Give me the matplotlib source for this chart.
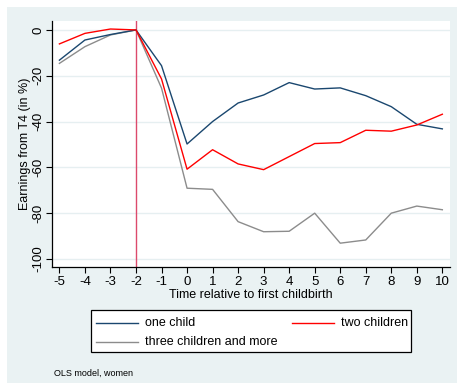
import matplotlib
matplotlib.use("Agg")
import matplotlib.pyplot as plt
from matplotlib.patches import Rectangle
from matplotlib.lines import Line2D

plt.rcParams["font.family"] = ["Liberation Sans", "DejaVu Sans"]
plt.rcParams["axes.unicode_minus"] = False

# Event time relative to first childbirth
years = [-5, -4, -3, -2, -1, 0, 1, 2, 3, 4, 5, 6, 7, 8, 9, 10]

# Earnings relative to T4 (in %) by number of children
one_child = [-13.2, -4.4, -2.0, 0.0, -15.6, -49.8, -40.0, -31.9, -28.4,
             -23.0, -25.8, -25.3, -28.7, -33.5, -41.2, -43.2]
two_children = [-6.1, -1.5, 0.4, 0.0, -21.4, -60.8, -52.3, -58.5, -61.0,
                -55.3, -49.6, -49.2, -43.8, -44.2, -41.5, -36.8]
three_plus = [-14.6, -7.3, -2.2, 0.0, -25.4, -69.1, -69.6, -83.7, -88.1,
              -87.9, -80.0, -93.1, -91.7, -80.0, -76.9, -78.5]

series_labels = ["one child", "two children", "three children and more"]
series_colors = ["#1a476f", "#ff0000", "#8c8c8c"]

y_ticks = [0, -20, -40, -60, -80, -100]
x_ticks = list(range(-5, 11))
ref_year = -2

W, H = 457, 383
fig = plt.figure(figsize=(W / 100, H / 100), dpi=100)
fig.patch.set_facecolor("white")


def fx(px):
    return px / W


def fy(py):
    return 1 - py / H


bg = "#eaf2f3"
fig.patches.append(Rectangle((fx(7), 0), 1 - fx(7), fy(7),
                             transform=fig.transFigure, facecolor=bg,
                             edgecolor="none", zorder=-10))

# plot region in pixels
left, right, top, bottom = 52, 450, 21, 267
ax = fig.add_axes([fx(left), fy(bottom), (right - left) / W, (bottom - top) / H])
ax.set_facecolor("white")

ax.set_xlim(-5.29, 10.3)
ax.set_ylim(-103.5, 3.9)

for yv in y_ticks:
    ax.axhline(yv, color="#e6eff1", lw=1.0, zorder=0)

ax.axvline(ref_year, color="#dc4a6c", lw=1.0, zorder=1)

for vals, col, z in zip([one_child, two_children, three_plus], series_colors, [3, 3, 2]):
    ax.plot(years, vals, color=col, lw=1.0, zorder=z)

ax.set_xticks(x_ticks)
ax.set_yticks(y_ticks)
ax.set_yticklabels([str(v) for v in y_ticks], rotation=90, va="center")
ax.tick_params(axis="both", direction="out", length=4.5, width=0.8,
               labelsize=9.5, color="black", pad=2)
ax.tick_params(axis="y", pad=1)

for side in ["top", "right"]:
    ax.spines[side].set_visible(False)
for side in ["left", "bottom"]:
    ax.spines[side].set_linewidth(0.9)
    ax.spines[side].set_color("black")

ax.set_xlabel("Time relative to first childbirth", fontsize=9, labelpad=1)
ax.set_ylabel("Earnings from T4 (in %)", fontsize=9, va="center")
ax.yaxis.set_label_coords((25 - left) / (right - left), 0.5)

# legend box drawn in figure pixel coordinates
fig.patches.append(Rectangle((fx(91), fy(352)), (411 - 91) / W, (352 - 310) / H,
                             transform=fig.transFigure, facecolor="white",
                             edgecolor="black", lw=0.9, zorder=5))
entries = [(96, 322.5), (292, 322.5), (96, 342)]
for (x0, yy), lab, col in zip(entries, series_labels, series_colors):
    fig.lines.append(Line2D([fx(x0), fx(x0 + 42)], [fy(yy), fy(yy)],
                            transform=fig.transFigure, color=col, lw=1.0, zorder=6))
    fig.text(fx(x0 + 49), fy(yy), lab, fontsize=9, va="center", ha="left", zorder=6)

fig.text(fx(54), fy(373), "OLS model, women", fontsize=6.5, va="center")

fig.savefig("out.png", dpi=100)
